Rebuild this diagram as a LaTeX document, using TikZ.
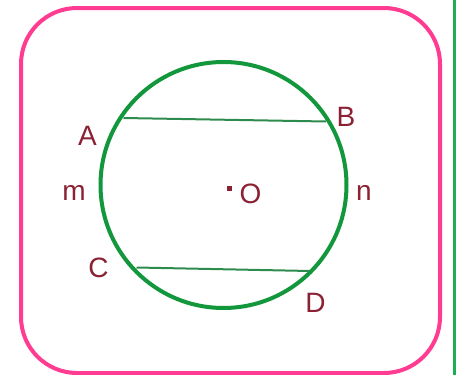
\documentclass[tikz,border=0pt]{standalone}
\usepackage{fontspec}
\setmainfont{Liberation Sans}
\definecolor{pinkb}{HTML}{FF3C92}
\definecolor{circg}{HTML}{12973C}
\definecolor{chordg}{HTML}{2E8B4E}
\definecolor{sideg}{HTML}{1CAE55}
\definecolor{lab}{HTML}{8A2233}
\begin{document}
\begin{tikzpicture}[x=1pt,y=-1pt,
  lbl/.style={text=lab,inner sep=0pt,font=\fontsize{28}{30}\selectfont},
  chord/.style={draw=chordg,line width=2pt}]
\useasboundingbox (0,0) rectangle (456,375);
\fill[white] (0,0) rectangle (456,375);
\draw[pinkb,line width=4pt,rounded corners=56pt] (21,8) rectangle (440,373);
\draw[sideg,line width=3pt] (454.5,0) -- (454.5,375);
\coordinate (O) at (223.5,185);
\draw[circg,line width=4pt] (O) circle (123);
\coordinate (A) at (123.5,118);
\coordinate (B) at (326,121.5);
\coordinate (C) at (136.5,267.5);
\coordinate (D) at (310,271);
\draw[chord] (A) -- (B);
\draw[chord] (C) -- (D);
\fill[lab] (226.5,186) rectangle (231.5,191);
\node[lbl] (lA) at (87.5,136) {A};
\node[lbl] (lB) at (346,117) {B};
\node[lbl] (lm) at (74,192.5) {m};
\node[lbl] (lO) at (250.5,193.5) {O};
\node[lbl] (ln) at (364,192.5) {n};
\node[lbl] (lC) at (98.5,267.5) {C};
\node[lbl] (lD) at (315.5,302.5) {D};
\end{tikzpicture}
\end{document}
